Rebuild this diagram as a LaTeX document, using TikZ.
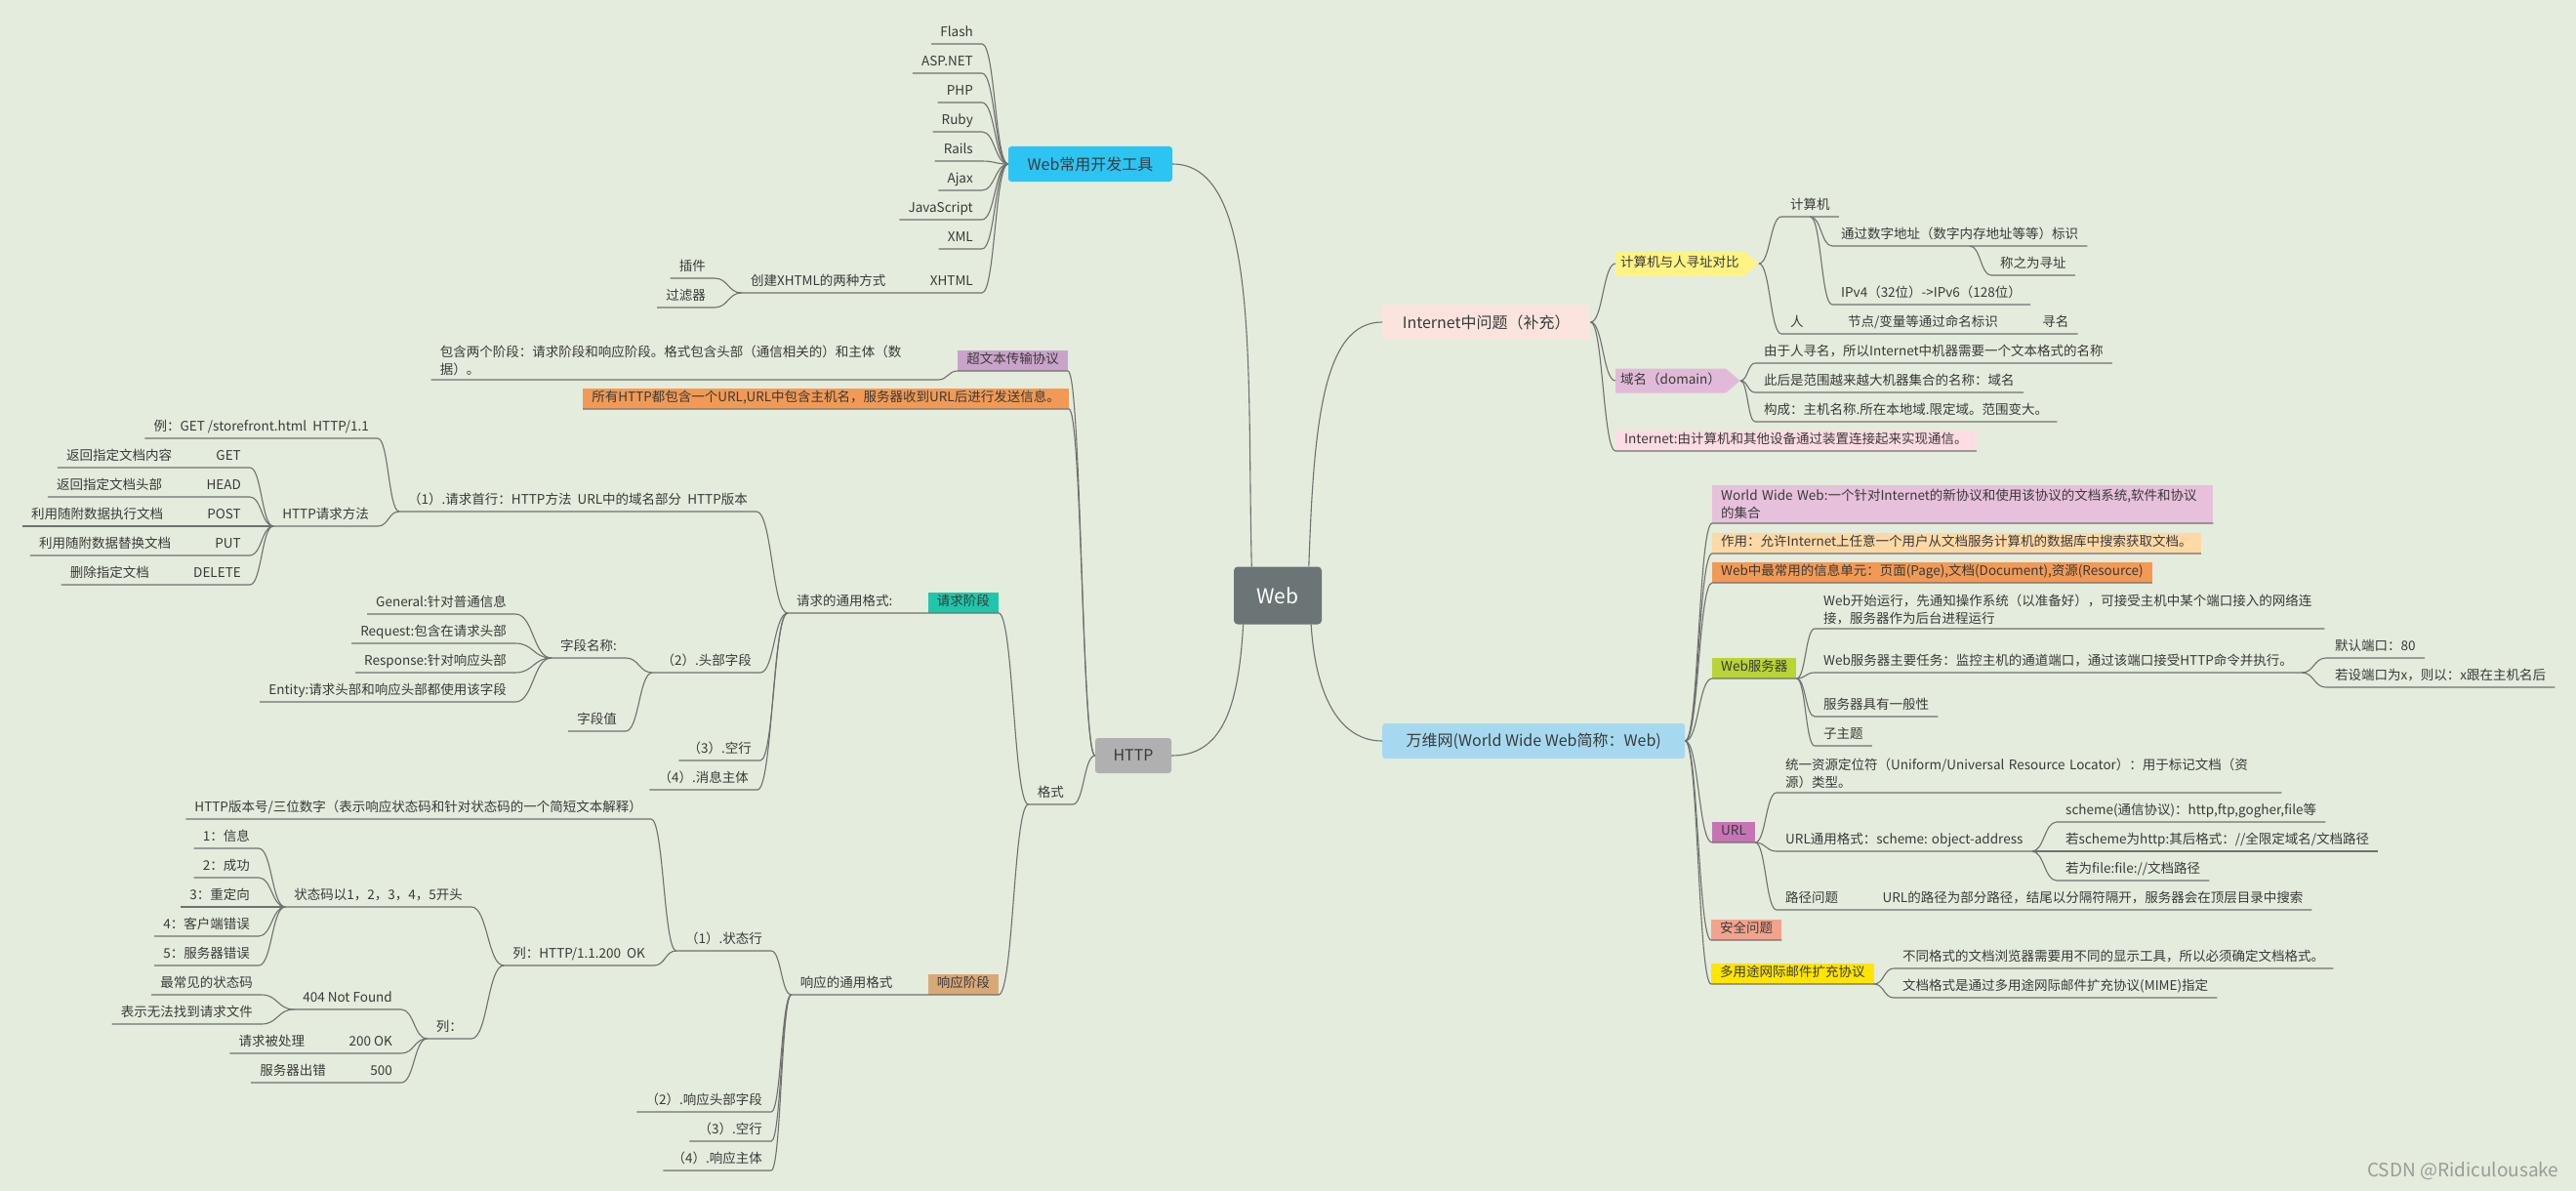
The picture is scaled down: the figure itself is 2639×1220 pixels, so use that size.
\documentclass[tikz,border=0pt]{standalone}
\usepackage{fontspec}
\usepackage{xcolor}
\usepackage{tikz}
\usetikzlibrary{positioning,calc,shapes.symbols}
\setmainfont{Noto Sans CJK SC}

\definecolor{paper}{HTML}{E4ECDD}
\definecolor{linecol}{HTML}{707070}
\definecolor{textcol}{HTML}{3A3A3A}
\definecolor{markcol}{HTML}{9A9C98}
\definecolor{rootcol}{HTML}{6B7575}
\definecolor{devcol}{HTML}{2CC4F3}
\definecolor{httpcol}{HTML}{B0B0B0}
\definecolor{inetcol}{HTML}{FBE4DE}
\definecolor{wwwcol}{HTML}{A6D9EF}
\definecolor{protocol}{HTML}{C9A3CA}
\definecolor{orangecol}{HTML}{F29A55}
\definecolor{reqcol}{HTML}{1EC7AB}
\definecolor{respcol}{HTML}{D9A877}
\definecolor{yellowcol}{HTML}{FFF383}
\definecolor{domaincol}{HTML}{E2BAD9}
\definecolor{pinkcol}{HTML}{FDDCE4}
\definecolor{wwwdefcol}{HTML}{E7C0DC}
\definecolor{usecol}{HTML}{FED9A6}
\definecolor{servercol}{HTML}{B8D435}
\definecolor{urlcol}{HTML}{C674B4}
\definecolor{safecol}{HTML}{F2A38D}
\definecolor{mimecol}{HTML}{FFE500}

\tikzset{
    every node/.style={font=\fontsize{13.5}{18}\selectfont, text=textcol},
    link/.style={draw=linecol, line width=1.1pt},
    branch/.style={to path={let \p1=(\tikztostart), \p2=(\tikztotarget) in
        .. controls ({(\x1+\x2)/2},\y1) and ({(\x1+\x2)/2},\y2) .. (\tikztotarget)}},
    leaf/.style={inner xsep=9pt, inner ysep=4pt, text height=10pt, text depth=3pt},
    para/.style={inner xsep=9pt, inner ysep=4pt, align=left},
    tag/.style={leaf, fill=#1},
    arrowtag/.style={signal, signal to=east, signal pointer angle=80, fill=#1,
        inner xsep=5pt, inner ysep=6pt, text height=10pt, text depth=3pt},
    topic/.style={fill=#1, rounded corners=3pt, inner xsep=18pt, minimum height=36pt,
        font=\fontsize{16}{19}\selectfont},
    root/.style={fill=rootcol, rounded corners=4pt, minimum width=90pt, minimum height=59pt,
        text=white, font=\fontsize{21}{24}\selectfont},
}

\begin{document}
\begin{tikzpicture}[x=1pt, y=-1pt]
    \fill[paper] (0,0) rectangle (2639,1220);
    \useasboundingbox (0,0) rectangle (2639,1220);

    \node[root] (web) at (1309,610) {Web};
    \node[topic=devcol, minimum width=168pt] (dev) at (1117,168) {Web常用开发工具};
    \node[topic=httpcol, minimum width=78pt] (http) at (1161,774) {HTTP};
    \node[topic=inetcol, minimum width=213pt, anchor=west] (inet) at (1416,330) {Internet中问题（补充）};
    \node[topic=wwwcol, minimum width=310pt, anchor=west] (www) at (1416,759) {万维网(World Wide Web简称：Web)};

    \draw[link] (web.132) .. controls +(-5,-200) and +(90,0) .. (dev.east);
    \draw[link] (web.43) .. controls +(5,-150) and +(-60,0) .. (inet.west);
    \draw[link] (web.220) .. controls +(-5,90) and +(50,0) .. (http.east);
    \draw[link] (web.319) .. controls +(5,80) and +(-40,0) .. (www.west);

    \node[leaf, anchor=south east] (flash) at (1006,45) {Flash};
    \node[leaf, anchor=south east] (aspnet) at (1006,75) {ASP.NET};
    \node[leaf, anchor=south east] (php) at (1006,105) {PHP};
    \node[leaf, anchor=south east] (ruby) at (1006,135) {Ruby};
    \node[leaf, anchor=south east] (rails) at (1006,165) {Rails};
    \node[leaf, anchor=south east] (ajax) at (1006,195) {Ajax};
    \node[leaf, anchor=south east] (js) at (1006,225) {JavaScript};
    \node[leaf, anchor=south east] (xml) at (1006,255) {XML};
    \node[leaf, anchor=south east] (xhtml) at (1006,300) {XHTML};
    \node[leaf, left=27pt of xhtml] (twoways) {创建XHTML的两种方式};
    \node[leaf, anchor=south east] (plugin) at (732,285) {插件};
    \node[leaf, anchor=south east] (filter) at (732,315) {过滤器};

    \draw[link] (dev.west) to[branch] (flash.south east) -- (flash.south west);
    \draw[link] (dev.west) to[branch] (aspnet.south east) -- (aspnet.south west);
    \draw[link] (dev.west) to[branch] (php.south east) -- (php.south west);
    \draw[link] (dev.west) to[branch] (ruby.south east) -- (ruby.south west);
    \draw[link] (dev.west) to[branch] (rails.south east) -- (rails.south west);
    \draw[link] (dev.west) to[branch] (ajax.south east) -- (ajax.south west);
    \draw[link] (dev.west) to[branch] (js.south east) -- (js.south west);
    \draw[link] (dev.west) to[branch] (xml.south east) -- (xml.south west);
    \draw[link] (dev.west) to[branch] (xhtml.south east) -- (twoways.south west);
    \draw[link] (twoways.south west) to[branch] (plugin.south east) -- (plugin.south west);
    \draw[link] (twoways.south west) to[branch] (filter.south east) -- (filter.south west);

    \node[tag=protocol, anchor=south east] (hyper) at (1094,380) {超文本传输协议};
    \node[para, text width=501pt, anchor=south east] (stages) at (961,389)
        {包含两个阶段：请求阶段和响应阶段。格式包含头部（通信相关的）和主体（数\\据）。};
    \node[tag=orangecol, anchor=south east] (allurl) at (1095,419)
        {所有HTTP都包含一个URL,URL中包含主机名，服务器收到URL后进行发送信息。};
    \node[leaf, anchor=south east] (format) at (1099,824) {格式};
    \node[tag=reqcol, anchor=south east] (req) at (1023,628) {请求阶段};
    \node[leaf, left=27pt of req] (reqfmt) {请求的通用格式:};
    \node[tag=respcol, anchor=south east] (resp) at (1023,1019) {响应阶段};
    \node[leaf, left=27pt of resp] (respfmt) {响应的通用格式};

    \draw[link] (http.west) to[branch] (hyper.south east) -- (hyper.south west);
    \draw[link] (hyper.south west) to[branch] (stages.south east) -- (stages.south west);
    \draw[link] (http.west) to[branch] (allurl.south east) -- (allurl.south west);
    \draw[link] (http.west) to[branch] (format.south east) -- (format.south west);
    \draw[link] (format.south west) to[branch] (req.south east) -- (reqfmt.south west);
    \draw[link] (format.south west) to[branch] (resp.south east) -- (respfmt.south west);

    \node[leaf, anchor=south east] (firstline) at (775,524) {（1）.请求首行：HTTP方法~~URL中的域名部分~~HTTP版本};
    \node[leaf, anchor=south east] (example) at (387,449) {例：GET /storefront.html~~HTTP/1.1};
    \node[leaf, anchor=south east] (methods) at (387,539) {HTTP请求方法};
    \node[leaf, anchor=south east] (get) at (256,479) {GET};
    \node[leaf, left=27pt of get] (getdesc) {返回指定文档内容};
    \node[leaf, anchor=south east] (head) at (256,509) {HEAD};
    \node[leaf, left=27pt of head] (headdesc) {返回指定文档头部};
    \node[leaf, anchor=south east] (post) at (256,539) {POST};
    \node[leaf, left=27pt of post] (postdesc) {利用随附数据执行文档};
    \node[leaf, anchor=south east] (put) at (256,569) {PUT};
    \node[leaf, left=27pt of put] (putdesc) {利用随附数据替换文档};
    \node[leaf, anchor=south east] (delete) at (256,599) {DELETE};
    \node[leaf, left=27pt of delete] (deldesc) {删除指定文档};
    \node[leaf, anchor=south east] (header) at (779,689) {（2）.头部字段};
    \node[leaf, anchor=south east] (fieldname) at (641,674) {字段名称:};
    \node[leaf, anchor=south east] (fieldvalue) at (641,749) {字段值};
    \node[leaf, anchor=south east] (general) at (528,629) {General:针对普通信息};
    \node[leaf, anchor=south east] (request) at (528,659) {Request:包含在请求头部};
    \node[leaf, anchor=south east] (response) at (528,689) {Response:针对响应头部};
    \node[leaf, anchor=south east] (entity) at (528,719) {Entity:请求头部和响应头部都使用该字段};
    \node[leaf, anchor=south east] (blank) at (779,779) {（3）.空行};
    \node[leaf, anchor=south east] (body) at (776,809) {（4）.消息主体};

    \draw[link] (reqfmt.south west) to[branch] (firstline.south east) -- (firstline.south west);
    \draw[link] (reqfmt.south west) to[branch] (header.south east) -- (header.south west);
    \draw[link] (reqfmt.south west) to[branch] (blank.south east) -- (blank.south west);
    \draw[link] (reqfmt.south west) to[branch] (body.south east) -- (body.south west);
    \draw[link] (firstline.south west) to[branch] (example.south east) -- (example.south west);
    \draw[link] (firstline.south west) to[branch] (methods.south east) -- (methods.south west);
    \draw[link] (methods.south west) to[branch] (get.south east) -- (getdesc.south west);
    \draw[link] (methods.south west) to[branch] (head.south east) -- (headdesc.south west);
    \draw[link] (methods.south west) to[branch] (post.south east) -- (postdesc.south west);
    \draw[link] (methods.south west) to[branch] (put.south east) -- (putdesc.south west);
    \draw[link] (methods.south west) to[branch] (delete.south east) -- (deldesc.south west);
    \draw[link] (header.south west) to[branch] (fieldname.south east) -- (fieldname.south west);
    \draw[link] (header.south west) to[branch] (fieldvalue.south east) -- (fieldvalue.south west);
    \draw[link] (fieldname.south west) to[branch] (general.south east) -- (general.south west);
    \draw[link] (fieldname.south west) to[branch] (request.south east) -- (request.south west);
    \draw[link] (fieldname.south west) to[branch] (response.south east) -- (response.south west);
    \draw[link] (fieldname.south west) to[branch] (entity.south east) -- (entity.south west);

    \node[leaf, anchor=south east] (statusline) at (790,974) {（1）.状态行};
    \node[leaf, anchor=south east] (version) at (667,839) {HTTP版本号/三位数字（表示响应状态码和针对状态码的一个简短文本解释）};
    \node[leaf, anchor=south east] (sample) at (670,989) {列：HTTP/1.1.200~~OK};
    \node[leaf, anchor=south east] (codes) at (483,929) {状态码以1，2，3，4，5开头};
    \node[leaf, anchor=south east] (info) at (265,869) {1：信息};
    \node[leaf, anchor=south east] (success) at (265,899) {2：成功};
    \node[leaf, anchor=south east] (redirect) at (265,929) {3：重定向};
    \node[leaf, anchor=south east] (clienterr) at (265,959) {4：客户端错误};
    \node[leaf, anchor=south east] (servererr) at (265,989) {5：服务器错误};
    \node[leaf, anchor=south east] (samples) at (483,1064) {列：};
    \node[leaf, anchor=south east] (notfound) at (411,1034) {404 Not Found};
    \node[leaf, anchor=south east] (common) at (268,1019) {最常见的状态码};
    \node[leaf, anchor=south east] (nofile) at (268,1049) {表示无法找到请求文件};
    \node[leaf, anchor=south east] (ok) at (411,1079) {200 OK};
    \node[leaf, left=27pt of ok] (handled) {请求被处理};
    \node[leaf, anchor=south east] (fail) at (411,1109) {500};
    \node[leaf, left=27pt of fail] (failed) {服务器出错};
    \node[leaf, anchor=south east] (respheader) at (790,1139) {（2）.响应头部字段};
    \node[leaf, anchor=south east] (respblank) at (790,1169) {（3）.空行};
    \node[leaf, anchor=south east] (respbody) at (790,1199) {（4）.响应主体};

    \draw[link] (respfmt.south west) to[branch] (statusline.south east) -- (statusline.south west);
    \draw[link] (respfmt.south west) to[branch] (respheader.south east) -- (respheader.south west);
    \draw[link] (respfmt.south west) to[branch] (respblank.south east) -- (respblank.south west);
    \draw[link] (respfmt.south west) to[branch] (respbody.south east) -- (respbody.south west);
    \draw[link] (statusline.south west) to[branch] (version.south east) -- (version.south west);
    \draw[link] (statusline.south west) to[branch] (sample.south east) -- (sample.south west);
    \draw[link] (sample.south west) to[branch] (codes.south east) -- (codes.south west);
    \draw[link] (sample.south west) to[branch] (samples.south east) -- (samples.south west);
    \draw[link] (codes.south west) to[branch] (info.south east) -- (info.south west);
    \draw[link] (codes.south west) to[branch] (success.south east) -- (success.south west);
    \draw[link] (codes.south west) to[branch] (redirect.south east) -- (redirect.south west);
    \draw[link] (codes.south west) to[branch] (clienterr.south east) -- (clienterr.south west);
    \draw[link] (codes.south west) to[branch] (servererr.south east) -- (servererr.south west);
    \draw[link] (samples.south west) to[branch] (notfound.south east) -- (notfound.south west);
    \draw[link] (samples.south west) to[branch] (ok.south east) -- (handled.south west);
    \draw[link] (samples.south west) to[branch] (fail.south east) -- (failed.south west);
    \draw[link] (notfound.south west) to[branch] (common.south east) -- (common.south west);
    \draw[link] (notfound.south west) to[branch] (nofile.south east) -- (nofile.south west);

    \node[arrowtag=yellowcol, anchor=west] (compare) at (1655,270) {计算机与人寻址对比};
    \node[arrowtag=domaincol, anchor=west] (domain) at (1655,390) {域名（domain）};
    \node[tag=pinkcol, anchor=south west] (inetdef) at (1655,462) {Internet:由计算机和其他设备通过装置连接起来实现通信。};
    \node[leaf, anchor=south west] (computer) at (1825,222) {计算机};
    \node[leaf, anchor=south west] (numeric) at (1877,252) {通过数字地址（数字内存地址等等）标识};
    \coordinate (addressing) at (2018,252);
    \node[leaf, anchor=south west] (calledaddr) at (2040,282) {称之为寻址};
    \node[leaf, anchor=south west] (ipv) at (1877,312) {IPv4（32位）->IPv6（128位）};
    \node[leaf, anchor=south west] (person) at (1825,342) {人};
    \node[leaf, right=27pt of person] (naming) {节点/变量等通过命名标识};
    \node[leaf, right=27pt of naming] (seekname) {寻名};
    \node[leaf, anchor=south west] (textname) at (1798,372) {由于人寻名，所以Internet中机器需要一个文本格式的名称};
    \node[leaf, anchor=south west] (domainname) at (1798,402) {此后是范围越来越大机器集合的名称：域名};
    \node[leaf, anchor=south west] (parts) at (1798,432) {构成：主机名称.所在本地域.限定域。范围变大。};

    \draw[link] (inet.east) to[branch] (compare.west);
    \draw[link] (inet.east) to[branch] (domain.west);
    \draw[link] (inet.east) to[branch] (inetdef.south west) -- (inetdef.south east);
    \draw[link] (compare.east) to[branch] (computer.south west) -- (computer.south east);
    \draw[link] (compare.east) to[branch] (person.south west) -- (seekname.south east);
    \draw[link] (computer.south) to[branch] (numeric.south west) -- (numeric.south east);
    \draw[link] (computer.south) to[branch] (ipv.south west) -- (ipv.south east);
    \draw[link] (addressing) to[branch] (calledaddr.south west) -- (calledaddr.south east);
    \draw[link] (domain.east) to[branch] (textname.south west) -- (textname.south east);
    \draw[link] (domain.east) to[branch] (domainname.south west) -- (domainname.south east);
    \draw[link] (domain.east) to[branch] (parts.south west) -- (parts.south east);

    \node[para, fill=wwwdefcol, text width=495pt, anchor=south west] (wwwdef) at (1754,536)
        {World Wide Web:一个针对Internet的新协议和使用该协议的文档系统,软件和协议\\的集合};
    \node[tag=usecol, anchor=south west] (purpose) at (1754,567) {作用：允许Internet上任意一个用户从文档服务计算机的数据库中搜索获取文档。};
    \node[tag=orangecol, anchor=south west] (units) at (1754,597) {Web中最常用的信息单元：页面(Page),文档(Document),资源(Resource)};
    \node[tag=servercol, anchor=south west] (server) at (1754,695) {Web服务器};
    \node[para, text width=504pt, anchor=south west] (startup) at (1859,644)
        {Web开始运行，先通知操作系统（以准备好），可接受主机中某个端口接入的网络连\\接，服务器作为后台进程运行};
    \node[leaf, anchor=south west] (task) at (1859,689) {Web服务器主要任务：监控主机的通道端口，通过该端口接受HTTP命令并执行。};
    \node[leaf, anchor=south west] (port) at (2383,674) {默认端口：80};
    \node[leaf, anchor=south west] (portx) at (2383,704) {若设端口为x，则以：x跟在主机名后};
    \node[leaf, anchor=south west] (generic) at (1859,734) {服务器具有一般性};
    \node[leaf, anchor=south west] (subtopic) at (1859,764) {子主题};
    \node[tag=urlcol, anchor=south west] (url) at (1754,863) {URL};
    \node[para, text width=499pt, anchor=south west] (locator) at (1820,812)
        {统一资源定位符（Uniform/Universal Resource Locator）：用于标记文档（资\\源）类型。};
    \node[leaf, anchor=south west] (urlformat) at (1820,872) {URL通用格式：scheme: object-address};
    \node[leaf, anchor=south west] (scheme) at (2107,842) {scheme(通信协议)：http,ftp,gogher,file等};
    \node[leaf, anchor=south west] (httpform) at (2107,872) {若scheme为http:其后格式：//全限定域名/文档路径};
    \node[leaf, anchor=south west] (fileform) at (2107,902) {若为file:file://文档路径};
    \node[leaf, anchor=south west] (path) at (1820,932) {路径问题};
    \node[leaf, right=27pt of path] (partial) {URL的路径为部分路径，结尾以分隔符隔开，服务器会在顶层目录中搜索};
    \node[tag=safecol, anchor=south west] (safety) at (1753,963) {安全问题};
    \node[tag=mimecol, anchor=south west] (mime) at (1753,1008) {多用途网际邮件扩充协议};
    \node[leaf, anchor=south west] (viewer) at (1940,992) {不同格式的文档浏览器需要用不同的显示工具，所以必须确定文档格式。};
    \node[leaf, anchor=south west] (mimedoc) at (1940,1022) {文档格式是通过多用途网际邮件扩充协议(MIME)指定};

    \draw[link] (www.east) to[branch] (wwwdef.south west) -- (wwwdef.south east);
    \draw[link] (www.east) to[branch] (purpose.south west) -- (purpose.south east);
    \draw[link] (www.east) to[branch] (units.south west) -- (units.south east);
    \draw[link] (www.east) to[branch] (server.south west) -- (server.south east);
    \draw[link] (www.east) to[branch] (url.south west) -- (url.south east);
    \draw[link] (www.east) to[branch] (safety.south west) -- (safety.south east);
    \draw[link] (www.east) to[branch] (mime.south west) -- (mime.south east);
    \draw[link] (server.south east) to[branch] (startup.south west) -- (startup.south east);
    \draw[link] (server.south east) to[branch] (task.south west) -- (task.south east);
    \draw[link] (server.south east) to[branch] (generic.south west) -- (generic.south east);
    \draw[link] (server.south east) to[branch] (subtopic.south west) -- (subtopic.south east);
    \draw[link] (task.south east) to[branch] (port.south west) -- (port.south east);
    \draw[link] (task.south east) to[branch] (portx.south west) -- (portx.south east);
    \draw[link] (url.south east) to[branch] (locator.south west) -- (locator.south east);
    \draw[link] (url.south east) to[branch] (urlformat.south west) -- (urlformat.south east);
    \draw[link] (url.south east) to[branch] (path.south west) -- (partial.south east);
    \draw[link] (urlformat.south east) to[branch] (scheme.south west) -- (scheme.south east);
    \draw[link] (urlformat.south east) to[branch] (httpform.south west) -- (httpform.south east);
    \draw[link] (urlformat.south east) to[branch] (fileform.south west) -- (fileform.south east);
    \draw[link] (mime.south east) to[branch] (viewer.south west) -- (viewer.south east);
    \draw[link] (mime.south east) to[branch] (mimedoc.south west) -- (mimedoc.south east);

    \node[font=\fontsize{19}{22}\selectfont, text=markcol, anchor=east] (mark) at (2625,1200) {CSDN @Ridiculousake};
\end{tikzpicture}
\end{document}
